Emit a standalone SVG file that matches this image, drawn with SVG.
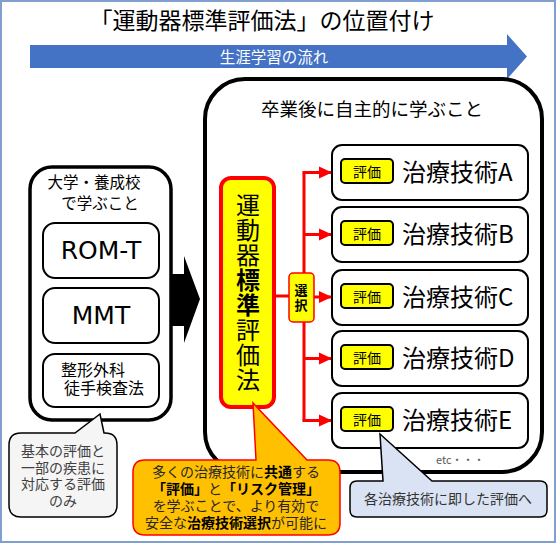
<svg xmlns="http://www.w3.org/2000/svg" width="558" height="544" viewBox="0 0 558 544">
  <defs>
    <style>
      .jp { font-family: "Noto Sans CJK JP", "Noto Sans", sans-serif; }
      .lat { font-family: "DejaVu Sans", "Verdana", sans-serif; }
      .b { font-weight: bold; }
      .box { fill: #fff; stroke: #000; }
      .tech { fill: #fff; stroke: #000; stroke-width: 2; }
      .badge { fill: #FFFF00; stroke: #000; stroke-width: 2; }
      .red { fill: none; stroke: #FF0000; stroke-width: 3; }
    </style>
    <marker id="rarrow" markerUnits="userSpaceOnUse" markerWidth="14" markerHeight="14" viewBox="0 0 14 14" refX="13" refY="7" orient="auto">
      <path d="M0,1 L13,7 L0,13 Z" fill="#FF0000"/>
    </marker>
  </defs>

  <rect x="0" y="0" width="558" height="544" fill="#fff"/>
  <rect x="1" y="1" width="554" height="541" fill="none" stroke="#7F9FCF" stroke-width="2"/>

  <g id="title">
    <text class="jp" x="262" y="29" font-size="23" text-anchor="middle" fill="#000">「運動器標準評価法」の位置付け</text>
  </g>

  <g id="lifelong-arrow">
    <path d="M30,45 L507,45 L507,34 L527,56.5 L507,79 L507,68 L30,68 Z" fill="#4472C4"/>
    <text class="jp" x="274" y="62.5" font-size="15.5" text-anchor="middle" fill="#fff">生涯学習の流れ</text>
  </g>

  <g id="after-graduation">
    <rect class="box" x="205" y="79" width="337" height="393" rx="40" stroke-width="4"/>
    <text class="jp" x="372" y="116" font-size="18.5" text-anchor="middle" fill="#000">卒業後に自主的に学ぶこと</text>
  </g>

  <g id="university">
    <rect class="box" x="30" y="167" width="141" height="253" rx="22" stroke-width="3.5"/>
    <text class="jp" font-size="15.5" text-anchor="middle"><tspan x="94" y="188">大学・養成校</tspan><tspan x="100" y="209">で学ぶこと</tspan></text>
  </g>

  <g id="rom-t">
    <rect class="tech" x="43" y="223" width="116" height="55" rx="12"/>
    <text class="lat" x="101" y="259" font-size="25" text-anchor="middle">ROM-T</text>
  </g>

  <g id="mmt">
    <rect class="tech" x="43" y="288" width="116" height="55" rx="12"/>
    <text class="lat" x="101" y="324" font-size="25" text-anchor="middle">MMT</text>
  </g>

  <g id="ortho">
    <rect class="tech" x="43" y="354" width="116" height="53" rx="12"/>
    <text class="jp" font-size="16" text-anchor="middle"><tspan x="93" y="376">整形外科</tspan><tspan x="104" y="394">徒手検査法</tspan></text>
  </g>

  <g id="connectors">
    <path d="M171,274 L184,274 L184,256 L200,299 L184,343 L184,326 L171,326 Z" fill="#000"/>
    <line class="red" x1="276" y1="296" x2="304" y2="296"/>
    <line class="red" x1="304" y1="172.5" x2="304" y2="420.5"/>
    <line class="red" x1="302.5" y1="172.5" x2="332" y2="172.5" marker-end="url(#rarrow)"/>
    <line class="red" x1="304" y1="234.5" x2="332" y2="234.5" marker-end="url(#rarrow)"/>
    <line class="red" x1="304" y1="297" x2="332" y2="297" marker-end="url(#rarrow)"/>
    <line class="red" x1="304" y1="358.5" x2="332" y2="358.5" marker-end="url(#rarrow)"/>
    <line class="red" x1="302.5" y1="420.5" x2="332" y2="420.5" marker-end="url(#rarrow)"/>
  </g>

  <g id="standard-method">
    <rect x="221" y="178" width="53" height="229" rx="10" fill="#FFFF00" stroke="#FF0000" stroke-width="4"/>
    <text class="jp" x="248" y="293" font-size="24" writing-mode="vertical-rl" text-anchor="middle" letter-spacing="1" fill="#000">運動器<tspan class="b">標準</tspan>評価法</text>
  </g>

  <g id="select">
    <rect x="289" y="273" width="25" height="49" rx="4" fill="#FFFF00" stroke="#FF0000" stroke-width="1.5"/>
    <text class="jp b" x="301" y="298.5" font-size="13" writing-mode="vertical-rl" text-anchor="middle" letter-spacing="2">選択</text>
  </g>

  <g id="tech-a">
    <rect class="tech" x="332" y="145" width="196" height="55" rx="10"/>
    <rect class="badge" x="341" y="159" width="52" height="24" rx="4"/>
    <text class="jp" x="367" y="176.5" font-size="14" text-anchor="middle">評価</text>
    <text class="jp" x="402" y="180.5" font-size="24">治療技術A</text>
  </g>
  <g id="tech-b">
    <rect class="tech" x="332" y="207" width="196" height="55" rx="10"/>
    <rect class="badge" x="341" y="221" width="52" height="24" rx="4"/>
    <text class="jp" x="367" y="238.5" font-size="14" text-anchor="middle">評価</text>
    <text class="jp" x="402" y="242.5" font-size="24">治療技術B</text>
  </g>
  <g id="tech-c">
    <rect class="tech" x="332" y="270" width="196" height="55" rx="10"/>
    <rect class="badge" x="341" y="284" width="52" height="24" rx="4"/>
    <text class="jp" x="367" y="301.5" font-size="14" text-anchor="middle">評価</text>
    <text class="jp" x="402" y="305.5" font-size="24">治療技術C</text>
  </g>
  <g id="tech-d">
    <rect class="tech" x="332" y="331" width="196" height="55" rx="10"/>
    <rect class="badge" x="341" y="345" width="52" height="24" rx="4"/>
    <text class="jp" x="367" y="362.5" font-size="14" text-anchor="middle">評価</text>
    <text class="jp" x="402" y="366.5" font-size="24">治療技術D</text>
  </g>
  <g id="tech-e">
    <rect class="tech" x="332" y="393" width="196" height="55" rx="10"/>
    <rect class="badge" x="341" y="407" width="52" height="24" rx="4"/>
    <text class="jp" x="367" y="424.5" font-size="14" text-anchor="middle">評価</text>
    <text class="jp" x="402" y="428.5" font-size="24">治療技術E</text>
  </g>

  <g id="etc">
    <text class="jp" x="436" y="464" font-size="11" fill="#595959">etc・・・</text>
  </g>

  <g id="callout-basic">
    <path d="M21,433 L75,433 L100,414 L104,433 L105,433 Q117,433 117,445 L117,505 Q117,517 105,517 L21,517 Q9,517 9,505 L9,445 Q9,433 21,433 Z" fill="#F5F5F5" stroke="#000" stroke-width="1.5"/>
    <text class="jp" font-size="14" text-anchor="middle" fill="#404040"><tspan x="63" y="456">基本の評価と</tspan><tspan x="63" y="472.5">一部の疾患に</tspan><tspan x="63" y="489">対応する評価</tspan><tspan x="63" y="506">のみ</tspan></text>
  </g>

  <g id="callout-common">
    <path d="M145,460 L256,460 L253,403 L307,460 L328,460 Q340,460 340,472 L340,523 Q340,535 328,535 L145,535 Q133,535 133,523 L133,472 Q133,460 145,460 Z" fill="#FFC000" stroke="#FF0000" stroke-width="1.5"/>
    <text class="jp" font-size="14" text-anchor="middle" fill="#262626"><tspan x="236" y="477">多くの治療技術に<tspan class="b" fill="#000">共通</tspan>する</tspan><tspan x="236" y="494"><tspan class="b" fill="#000">「評価」</tspan>と<tspan class="b" fill="#000">「リスク管理」</tspan></tspan><tspan x="236" y="511">を学ぶことで、より有効で</tspan><tspan x="236" y="528">安全な<tspan class="b" fill="#000">治療技術選択</tspan>が可能に</tspan></text>
  </g>

  <g id="callout-each">
    <path d="M357,481 L383,481 L380,434 L432,481 L540,481 Q547,481 547,488 L547,510 Q547,517 540,517 L357,517 Q350,517 350,510 L350,488 Q350,481 357,481 Z" fill="#DAE3F3" stroke="#000" stroke-width="1.5"/>
    <text class="jp" x="448" y="504" font-size="14" text-anchor="middle" fill="#333">各治療技術に即した評価へ</text>
  </g>
</svg>
